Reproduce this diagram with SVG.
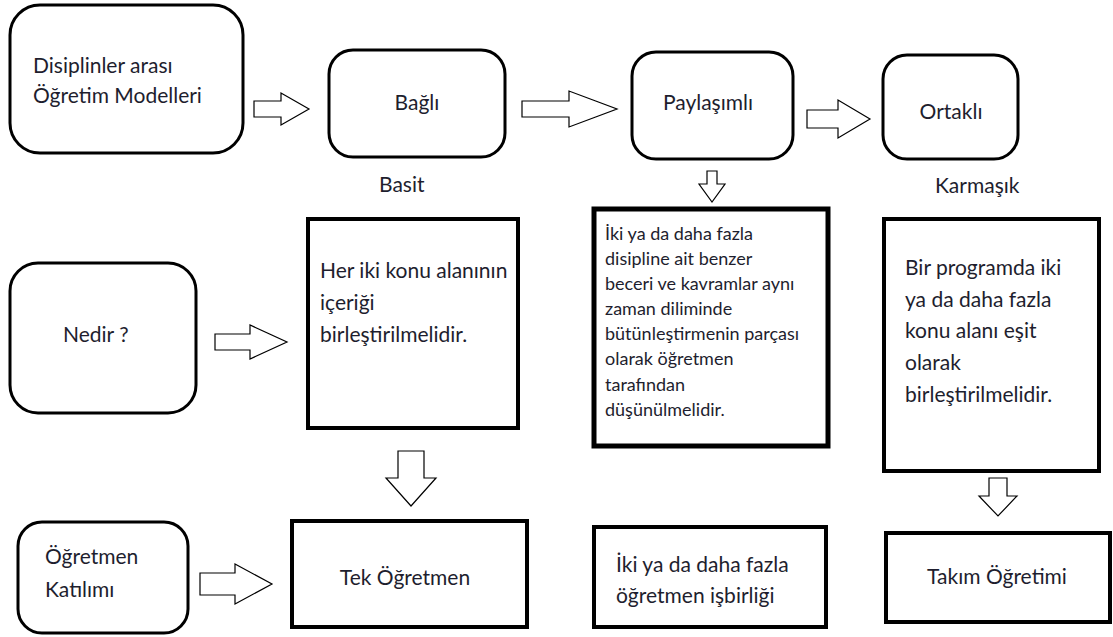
<svg xmlns="http://www.w3.org/2000/svg" width="1113" height="637" viewBox="0 0 1113 637">
<style>
.rb{fill:#fff;stroke:#000;stroke-width:3}
.rc{fill:#fff;stroke:#000;stroke-width:4}
.ar{fill:#fff;stroke:#000;stroke-width:1.2;stroke-linejoin:miter}
text{font-family:Lato,"Open Sans",sans-serif;fill:#1e1e2e;font-size:21px}
.s{font-size:18px}
</style>
<rect width="1113" height="637" fill="#fff"/>
<g id="connectors">
<path class="ar" d="M254,101 H281 V93 L309,109 L281,125 V117 H254 Z"/>
<path class="ar" d="M522,101 H569 V91 L617,109 L569,127 V117 H522 Z"/>
<path class="ar" d="M807,110 H838 V100 L870,119 L838,138 V128 H807 Z"/>
<path class="ar" d="M215,334 H250 V325 L287,342 L250,359 V350 H215 Z"/>
<path class="ar" d="M200,573 H235 V564 L272,584 L235,604 V595 H200 Z"/>
<path class="ar" d="M707,171 H717 V184 H725 L712,202 L699,184 H707 Z"/>
<path class="ar" d="M398,451 H424 V478 H436 L411,506 L386,478 H398 Z"/>
<path class="ar" d="M989,478 H1007 V496 H1017 L998,516 L979,496 H989 Z"/>
</g>
<g id="n-disiplinler">
<rect class="rb" x="10" y="5" width="233" height="148" rx="30"/>
<text x="33" y="73">Disiplinler arası</text>
<text x="33" y="103">Öğretim Modelleri</text>
</g>
<g id="n-bagli">
<rect class="rb" x="329" y="50" width="176" height="107" rx="24"/>
<text x="417" y="110" text-anchor="middle">Bağlı</text>
</g>
<g id="n-basit"><text x="379" y="192">Basit</text></g>
<g id="n-paylasimli">
<rect class="rb" x="632" y="52" width="161" height="107" rx="24"/>
<text x="708" y="110" text-anchor="middle">Paylaşımlı</text>
</g>
<g id="n-ortakli">
<rect class="rb" x="883" y="55" width="135" height="104" rx="24"/>
<text x="951" y="119" text-anchor="middle">Ortaklı</text>
</g>
<g id="n-karmasik"><text x="935" y="193">Karmaşık</text></g>
<g id="n-nedir">
<rect class="rb" x="10" y="263" width="186" height="150" rx="28"/>
<text x="63" y="342">Nedir ?</text>
</g>
<g id="n-heriki">
<rect class="rc" x="308" y="219" width="210" height="209"/>
<text x="320" y="278">Her iki konu alanının</text>
<text x="320" y="310">içeriği</text>
<text x="320" y="342">birleştirilmelidir.</text>
</g>
<g id="n-ikiya">
<rect class="rc" x="594" y="209" width="234" height="237" style="stroke-width:5"/>
<text class="s" x="605" y="240">İki ya da daha fazla</text>
<text class="s" x="605" y="265">disipline ait benzer</text>
<text class="s" x="605" y="290">beceri ve kavramlar aynı</text>
<text class="s" x="605" y="315">zaman diliminde</text>
<text class="s" x="605" y="340">bütünleştirmenin parçası</text>
<text class="s" x="605" y="365">olarak öğretmen</text>
<text class="s" x="605" y="391">tarafından</text>
<text class="s" x="605" y="416">düşünülmelidir.</text>
</g>
<g id="n-birprogram">
<rect class="rc" x="884" y="219" width="215" height="252"/>
<text x="905" y="275">Bir programda iki</text>
<text x="905" y="307">ya da daha fazla</text>
<text x="905" y="338">konu alanı eşit</text>
<text x="905" y="370">olarak</text>
<text x="905" y="402">birleştirilmelidir.</text>
</g>
<g id="n-ogretmen">
<rect class="rb" x="18" y="522" width="170" height="111" rx="24"/>
<text x="45" y="564">Öğretmen</text>
<text x="45" y="597">Katılımı</text>
</g>
<g id="n-tek">
<rect class="rc" x="292" y="521" width="235" height="106"/>
<text x="405" y="585" text-anchor="middle">Tek Öğretmen</text>
</g>
<g id="n-isbirligi">
<rect class="rc" x="594" y="527" width="232" height="100"/>
<text x="616" y="572">İki ya da daha fazla</text>
<text x="616" y="603">öğretmen işbirliği</text>
</g>
<g id="n-takim">
<rect class="rc" x="886" y="533" width="224" height="89"/>
<text x="997" y="584" text-anchor="middle">Takım Öğretimi</text>
</g>
</svg>
